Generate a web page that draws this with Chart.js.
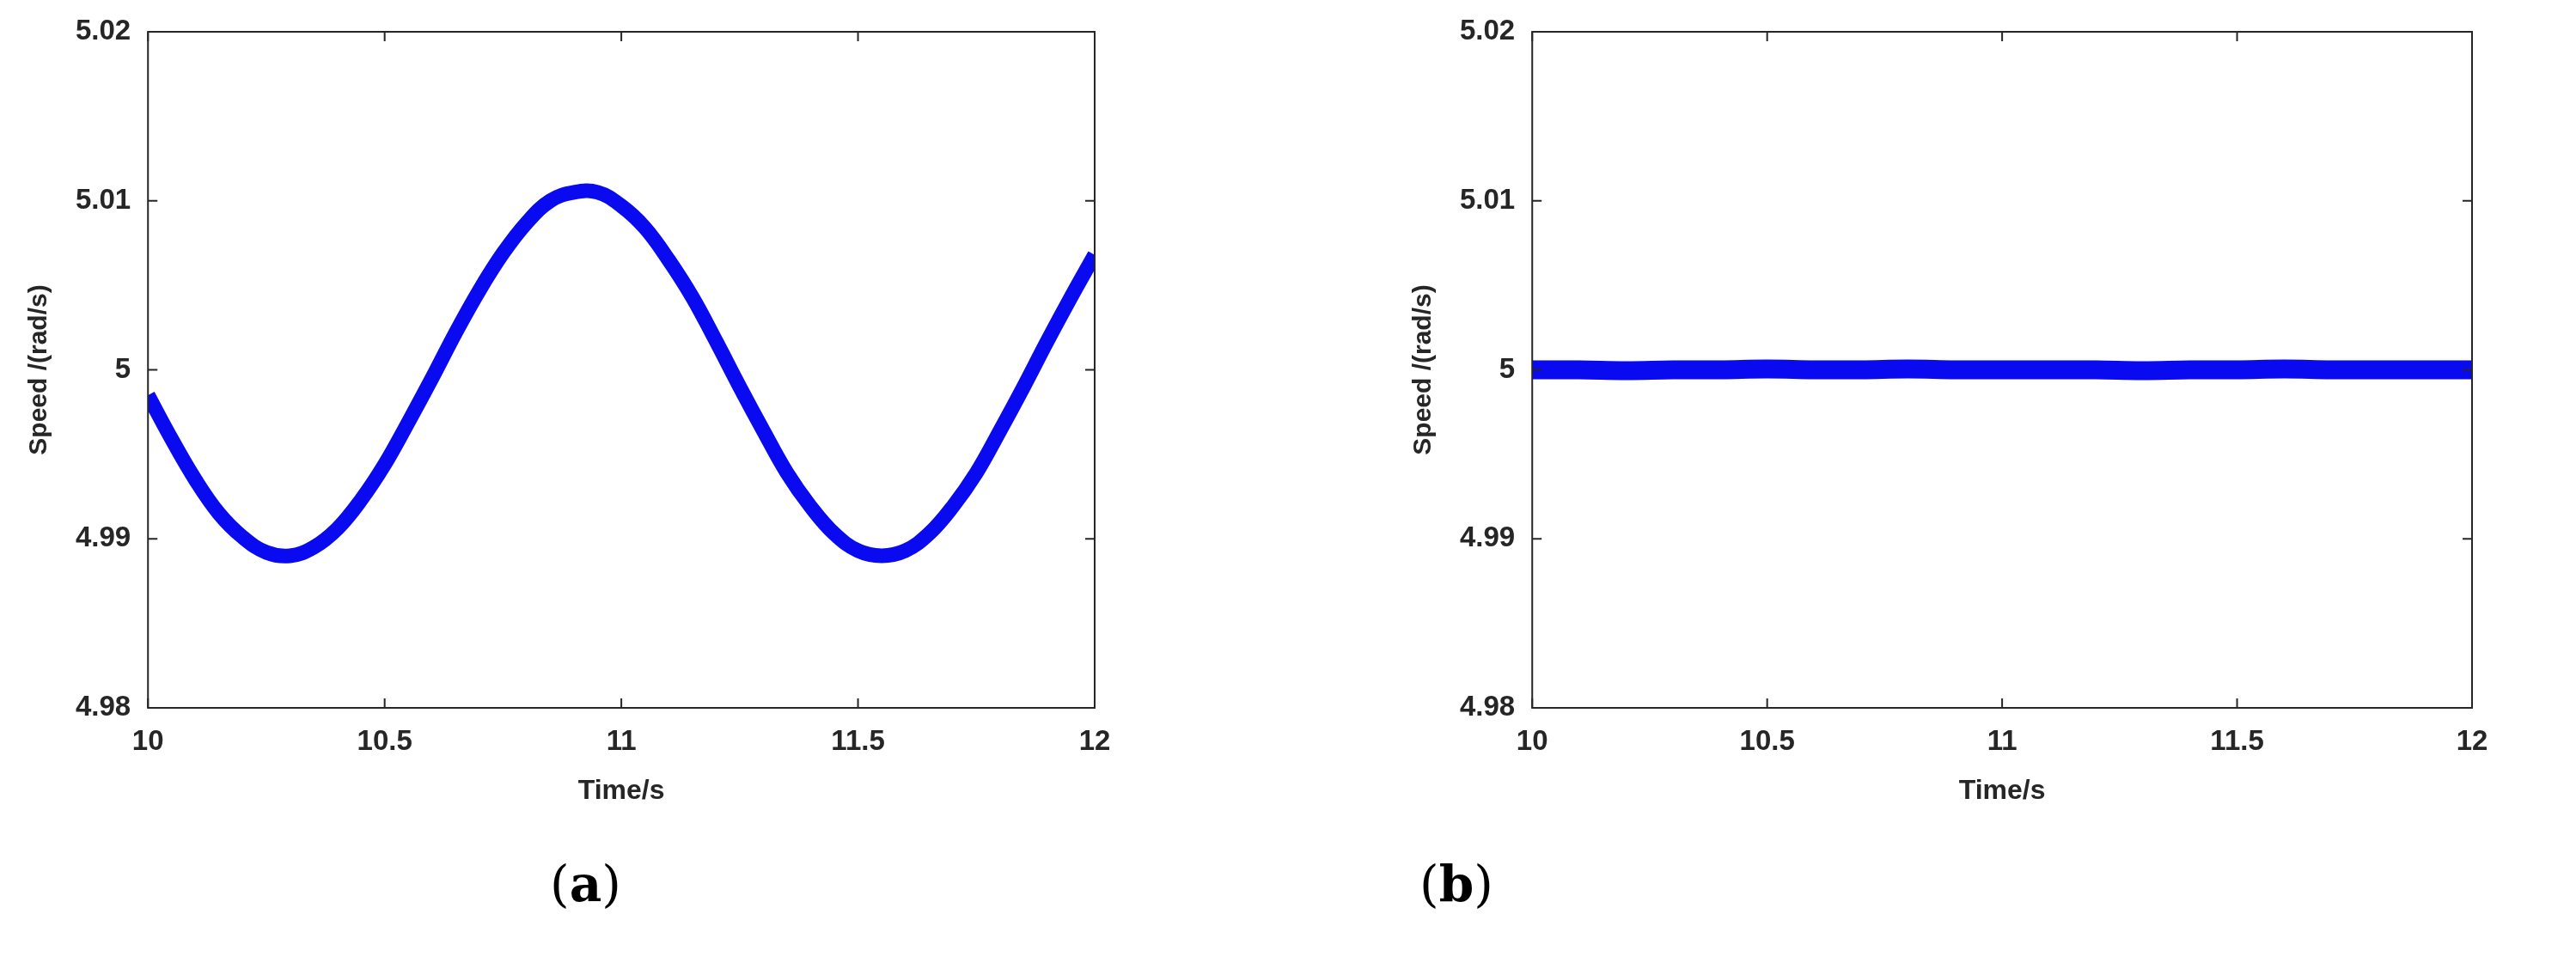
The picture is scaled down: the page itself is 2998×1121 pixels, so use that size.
<!DOCTYPE html>
<html><head><meta charset="utf-8">
<script src="https://cdn.jsdelivr.net/npm/chart.js@4"></script>
<style>
html,body{margin:0;padding:0;background:#fff;width:2998px;height:1121px;overflow:hidden;position:relative}
.wrap{position:absolute;top:0}
.cap{position:absolute;font-family:"DejaVu Serif","Liberation Serif",serif;font-size:58px;color:#000;top:995px}
</style></head><body>
<div class="wrap" style="left:0;width:1400px;height:944px"><canvas id="a"></canvas></div>
<div class="wrap" style="left:1605px;width:1380px;height:944px"><canvas id="b"></canvas></div>
<div class="cap" style="left:640px">(<b>a</b>)</div>
<div class="cap" style="left:1652px">(<b>b</b>)</div>
<script>
const timeA = [10.00,10.05,10.10,10.15,10.20,10.25,10.30,10.35,10.40,10.45,10.50,10.55,10.60,10.65,10.70,10.75,10.80,10.85,10.90,10.95,11.00,11.05,11.10,11.15,11.20,11.25,11.30,11.35,11.40,11.45,11.50,11.55,11.60,11.65,11.70,11.75,11.80,11.85,11.90,11.95,12.00];
const speedA = [4.9985,4.9959,4.9935,4.9915,4.9901,4.9892,4.9890,4.9895,4.9906,4.9923,4.9944,4.9969,4.9995,5.0022,5.0047,5.0069,5.0087,5.0100,5.0105,5.0105,5.0097,5.0084,5.0065,5.0043,5.0017,4.9990,4.9964,4.9939,4.9919,4.9903,4.9893,4.9890,4.9893,4.9903,4.9919,4.9939,4.9964,4.9990,5.0017,5.0043,5.0068];
const timeB = [10.0,10.1,10.2,10.3,10.4,10.5,10.6,10.7,10.8,10.9,11.0,11.1,11.2,11.3,11.4,11.5,11.6,11.7,11.8,11.9,12.0];
const speedB = [5.0000,5.0000,4.99995,5.0000,5.0000,5.00005,5.0000,5.0000,5.00005,5.0000,5.0000,5.0000,5.0000,4.99995,5.0000,5.0000,5.00005,5.0000,5.0000,5.0000,5.0000];
const xTicks = [10,10.5,11,11.5,12];
const yTicks = [4.98,4.99,5,5.01,5.02];
const xTitle = 'Time/s';
const yTitle = 'Speed /(rad/s)';

const frame = {id:'frame',afterDraw(c){
  const {ctx,chartArea:a,scales:{x,y}}=c;
  ctx.save();ctx.strokeStyle='#262626';ctx.lineWidth=2;
  ctx.strokeRect(a.left,a.top,a.right-a.left,a.bottom-a.top);
  xTicks.forEach(v=>{const p=x.getPixelForValue(v);ctx.beginPath();ctx.moveTo(p,a.bottom);ctx.lineTo(p,a.bottom-11);ctx.moveTo(p,a.top);ctx.lineTo(p,a.top+11);ctx.stroke();});
  yTicks.forEach(v=>{const p=y.getPixelForValue(v);ctx.beginPath();ctx.moveTo(a.left,p);ctx.lineTo(a.left+11,p);ctx.moveTo(a.right,p);ctx.lineTo(a.right-11,p);ctx.stroke();});
  ctx.restore();}};

function make(id,xs,ys,lw,pad){
  new Chart(document.getElementById(id),{type:'line',
    data:{datasets:[{data:xs.map((t,i)=>({x:t,y:ys[i]})),borderColor:'#0a0af0',borderWidth:lw,pointRadius:0,tension:0.4,fill:false}]},
    options:{responsive:true,maintainAspectRatio:false,animation:false,
      layout:{padding:pad},
      plugins:{legend:{display:false},tooltip:{enabled:false}},
      scales:{
        x:{type:'linear',min:10,max:12,afterBuildTicks:s=>{s.ticks=xTicks.map(v=>({value:v}));},
          grid:{display:false},border:{display:false},
          ticks:{color:'#262626',font:{family:'Liberation Sans',size:33,weight:'bold'},padding:12,callback:v=>String(v)},
          title:{display:true,text:xTitle,color:'#262626',font:{family:'Liberation Sans',size:32,weight:'bold'},padding:{top:6}}},
        y:{min:4.98,max:5.02,afterBuildTicks:s=>{s.ticks=yTicks.map(v=>({value:v}));},
          grid:{display:false},border:{display:false},
          ticks:{color:'#262626',font:{family:'Liberation Sans',size:33,weight:'bold'},padding:12,callback:v=>String(+v.toFixed(2))},
          title:{display:true,text:yTitle,color:'#262626',font:{family:'Liberation Sans',size:30,weight:'bold'},padding:{bottom:12}}}}},
    plugins:[frame]});
}
make('a',timeA,speedA,17,{left:24,top:37,right:126,bottom:0});
make('b',timeB,speedB,22,{left:30,top:37,right:108,bottom:0});
</script></body></html>
